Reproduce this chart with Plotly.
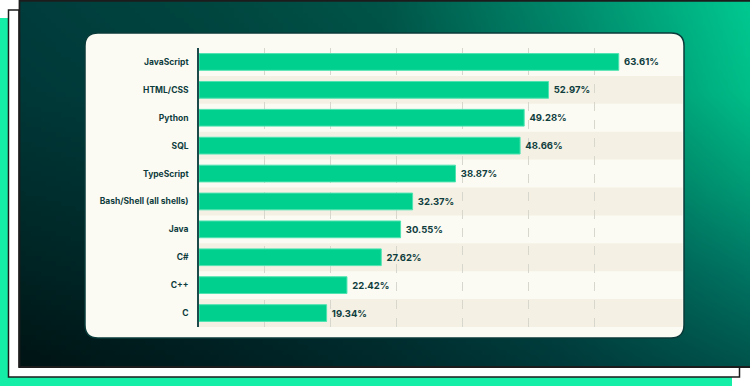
import base64
import struct
import zlib
import plotly.graph_objects as go

# ---------------- data ----------------
languages = ["JavaScript", "HTML/CSS", "Python", "SQL", "TypeScript",
             "Bash/Shell (all shells)", "Java", "C#", "C++", "C"]
usage_pct = [63.61, 52.97, 49.28, 48.66, 38.87, 32.37, 30.55, 27.62, 22.42, 19.34]
grid_ticks = [10, 20, 30, 40, 50, 60]

# ---------------- styling ----------------
W, H = 750, 386
TEXT = "#0f3d3e"
BAR = "#00d08d"
BAR_EDGE = "#4fe3b1"
CREAM = "#fcfbf3"
BAND = "#f4f1e4"
FONT = "Inter"


def px(x):
    return x / W


def py(y):
    return 1 - y / H


# background gradient (decorative) built as a small PNG
grad_rows = [  # top -> bottom, left -> right
    ["#003c3c", "#00463f", "#005548", "#008a6c", "#00c890"],
    ["#003838", "#00403d", "#004e46", "#007e66", "#00be88"],
    ["#002e2e", "#003535", "#00423f", "#006858", "#009c76"],
    ["#002222", "#002a2b", "#003536", "#004c47", "#007462"],
    ["#001414", "#001e20", "#002a2c", "#003a3a", "#00534b"],
]


def hex2rgb(h):
    h = h.lstrip("#")
    return [int(h[i:i + 2], 16) for i in (0, 2, 4)]


grid = [[hex2rgb(c) for c in row] for row in grad_rows]
gw, gh = 148, 74
raw = bytearray()
nr, nc = len(grid), len(grid[0])
for j in range(gh):
    raw.append(0)
    fy = j / (gh - 1) * (nr - 1)
    r0 = min(int(fy), nr - 2)
    ty = fy - r0
    for i in range(gw):
        fx = i / (gw - 1) * (nc - 1)
        c0 = min(int(fx), nc - 2)
        tx = fx - c0
        for k in range(3):
            a = grid[r0][c0][k] * (1 - tx) + grid[r0][c0 + 1][k] * tx
            b = grid[r0 + 1][c0][k] * (1 - tx) + grid[r0 + 1][c0 + 1][k] * tx
            raw.append(int(round(a * (1 - ty) + b * ty)))


def chunk(tag, data):
    return (struct.pack(">I", len(data)) + tag + data
            + struct.pack(">I", zlib.crc32(tag + data) & 0xffffffff))


png = (b"\x89PNG\r\n\x1a\n"
       + chunk(b"IHDR", struct.pack(">IIBBBBB", gw, gh, 8, 2, 0, 0, 0))
       + chunk(b"IDAT", zlib.compress(bytes(raw), 9))
       + chunk(b"IEND", b""))
grad_uri = "data:image/png;base64," + base64.b64encode(png).decode()


def poly(points):
    s = "M " + " L ".join(f"{px(x):.5f},{py(y):.5f}" for x, y in points) + " Z"
    return s


def rrect(x0, y0, x1, y1, r):
    P = lambda x, y: f"{px(x):.5f},{py(y):.5f}"
    return (f"M {P(x0 + r, y0)} L {P(x1 - r, y0)} Q {P(x1, y0)} {P(x1, y0 + r)} "
            f"L {P(x1, y1 - r)} Q {P(x1, y1)} {P(x1 - r, y1)} "
            f"L {P(x0 + r, y1)} Q {P(x0, y1)} {P(x0, y1 - r)} "
            f"L {P(x0, y0 + r)} Q {P(x0, y0)} {P(x0 + r, y0)} Z")


fig = go.Figure()
fig.add_trace(go.Bar(
    x=usage_pct, y=languages, orientation="h",
    marker=dict(color=BAR, line=dict(color=BAR_EDGE, width=1)),
    texttemplate=" %{x:.2f}%", textposition="outside",
    textfont=dict(family=FONT, size=9.5, color=TEXT, weight=700),
    cliponaxis=False, hoverinfo="skip",
))

shapes = [
    # green back frame (visible L part)
    dict(type="path", xref="paper", yref="paper", layer="below",
         path=poly([(0, 18), (8, 18), (8, 377), (732, 377), (732, 386), (0, 386)]),
         fillcolor="#14eea7", line=dict(width=0)),
    # white middle frame (visible L part)
    dict(type="path", xref="paper", yref="paper", layer="below",
         path=poly([(8.5, 10), (19, 10), (19, 367), (739.5, 367), (739.5, 377), (8.5, 377)]),
         fillcolor="#ffffff", line=dict(color="#1c1c1c", width=1.5)),
    # dark panel border
    dict(type="rect", xref="paper", yref="paper", layer="below",
         x0=px(19.5), x1=px(751), y0=py(367), y1=py(0.8),
         fillcolor="rgba(0,0,0,0)", line=dict(color="#1c1c1c", width=1.8)),
    # cream chart card
    dict(type="path", xref="paper", yref="paper", layer="below",
         path=rrect(85, 33, 684, 338, 13),
         fillcolor=CREAM, line=dict(color="#0a3b3a", width=1.5)),
]
for i in range(1, len(languages), 2):
    shapes.append(dict(type="rect", xref="x domain", yref="y", layer="below",
                       x0=0, x1=0.997, y0=i - 0.5, y1=i + 0.5,
                       fillcolor=BAND, line=dict(width=0)))

fig.update_layout(
    width=W, height=H, autosize=False,
    margin=dict(l=0, r=0, t=0, b=0),
    paper_bgcolor="white", plot_bgcolor="rgba(0,0,0,0)",
    showlegend=False, bargap=0.4,
    images=[dict(source=grad_uri, xref="paper", yref="paper",
                 x=px(19), y=1, sizex=px(750) - px(19), sizey=367 / H,
                 xanchor="left", yanchor="top", sizing="stretch", layer="below")],
    shapes=shapes,
    xaxis=dict(domain=[px(199), px(684)], range=[0, 73.5],
               tickvals=grid_ticks, showticklabels=False, ticks="",
               showgrid=True, gridcolor="#d8d7ce", griddash="dash", gridwidth=1,
               zeroline=False, showline=False, fixedrange=True),
    yaxis=dict(domain=[py(327), py(48)], type="category", autorange="reversed",
               showgrid=False, zeroline=False,
               showline=True, linecolor="#1c4a4a", linewidth=1.5,
               ticks="outside", ticklen=7, tickcolor="rgba(0,0,0,0)",
               tickfont=dict(family=FONT, size=8.5, color=TEXT, weight=700),
               fixedrange=True),
)

fig.write_html("out.html", config={"displayModeBar": False},
               post_script="document.body.style.margin='0';"
                           "document.body.style.overflow='hidden';")
